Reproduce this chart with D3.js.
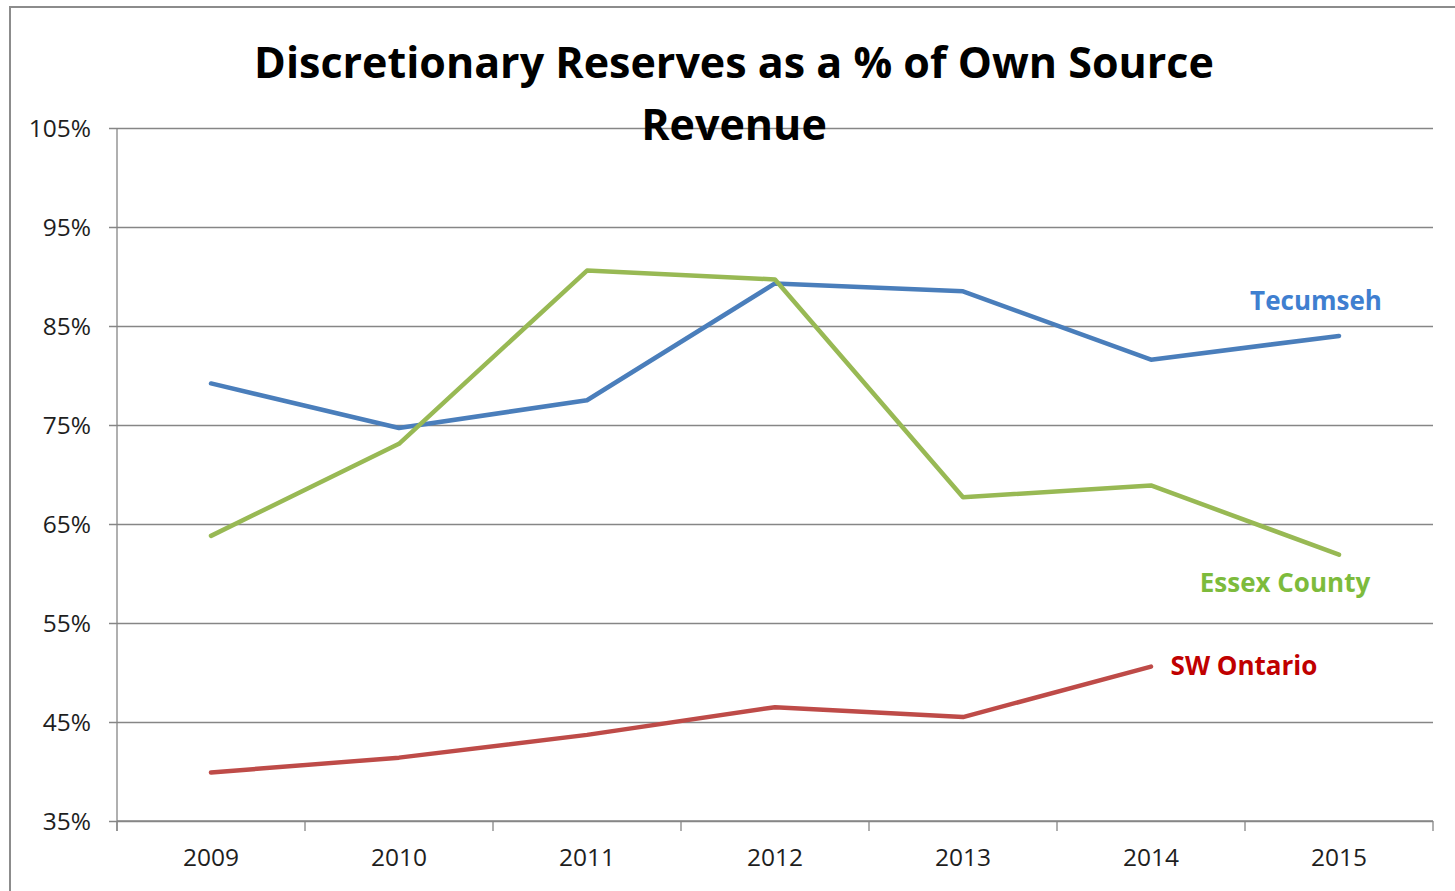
<!DOCTYPE html>
<html>
<head>
<meta charset="utf-8">
<script src="https://cdn.jsdelivr.net/npm/d3@7"></script>
<style>
  html, body { margin: 0; padding: 0; background: #fff; }
  svg { display: block; }
</style>
</head>
<body>
<svg id="chart" width="1455" height="891"></svg>
<script>
// Discretionary reserves as a share of own-source revenue, by year
const years = ["2009", "2010", "2011", "2012", "2013", "2014", "2015"];
const tecumseh = [79.2, 74.7, 77.5, 89.3, 88.5, 81.6, 84.0];
const essexCounty = [63.8, 73.1, 90.6, 89.7, 67.7, 68.9, 61.9];
const swOntario = [39.9, 41.4, 43.7, 46.5, 45.5, 50.6];
const yTicks = [35, 45, 55, 65, 75, 85, 95, 105];
const titleLines = ["Discretionary Reserves as a % of Own Source", "Revenue"];

const series = [
  { name: "Tecumseh", values: tecumseh, line: "#4A7EBB", label: "#3F7FD0", lx: 1316, ly: 301 },
  { name: "Essex County", values: essexCounty, line: "#98B954", label: "#7DBB3C", lx: 1285, ly: 583 },
  { name: "SW Ontario", values: swOntario, line: "#BE4B48", label: "#C00000", lx: 1244, ly: 666 }
];

const svg = d3.select("#chart");
const W = 1455, H = 891;
const plot = { left: 117, right: 1433, top: 128, bottom: 821 };
const gridColor = "#868686";
const font = "'Open Sans', 'Liberation Sans', sans-serif";

// outer frame
svg.append("rect")
  .attr("x", 10).attr("y", 7)
  .attr("width", W - 10 + 2).attr("height", H - 7 + 2)
  .attr("fill", "#fff")
  .attr("stroke", "#8c8c8c").attr("stroke-width", 2);

const x = d3.scalePoint().domain(years).range([plot.left, plot.right]).padding(0.5);
const xBand = d3.scaleBand().domain(years).range([plot.left, plot.right]);
const y = d3.scaleLinear().domain([35, 105]).range([plot.bottom, plot.top]);

// horizontal gridlines + y axis labels
const yAxis = svg.append("g")
  .attr("transform", `translate(${plot.left},0)`)
  .call(d3.axisLeft(y).tickValues(yTicks)
    .tickSize(-(plot.right - plot.left))
    .tickFormat(d => d + "%"));
yAxis.select(".domain").remove();
yAxis.selectAll(".tick line")
  .attr("stroke", gridColor).attr("stroke-width", 1.3)
  .attr("x2", plot.right - plot.left).attr("x1", -8);
yAxis.selectAll(".tick text")
  .attr("x", -26)
  .attr("dy", "0.35em")
  .attr("fill", "#1e1e1e")
  .style("font-family", font)
  .style("font-size", "24.5px");

// vertical axis line
svg.append("line")
  .attr("x1", plot.left).attr("x2", plot.left)
  .attr("y1", plot.top).attr("y2", plot.bottom + 10)
  .attr("stroke", gridColor).attr("stroke-width", 1.3);

// x axis with ticks at category boundaries
const xAxis = svg.append("g")
  .attr("transform", `translate(0,${plot.bottom})`);
xAxis.append("line")
  .attr("x1", plot.left).attr("x2", plot.right)
  .attr("stroke", gridColor).attr("stroke-width", 1.3);
const boundaries = years.map(d => xBand(d)).concat([xBand(years[years.length - 1]) + xBand.bandwidth()]);
xAxis.selectAll("line.tk").data(boundaries).enter().append("line")
  .attr("class", "tk")
  .attr("x1", d => d).attr("x2", d => d)
  .attr("y1", 0).attr("y2", 10)
  .attr("stroke", gridColor).attr("stroke-width", 1.3);
xAxis.selectAll("text").data(years).enter().append("text")
  .attr("x", d => x(d))
  .attr("y", 45)
  .attr("text-anchor", "middle")
  .attr("fill", "#1e1e1e")
  .style("font-family", font)
  .style("font-size", "24.5px")
  .text(d => d);

// series lines
const line = d3.line()
  .x((d, i) => x(years[i]))
  .y(d => y(d));

series.forEach(s => {
  svg.append("path")
    .datum(s.values)
    .attr("d", line)
    .attr("fill", "none")
    .attr("stroke", s.line)
    .attr("stroke-width", 4.5)
    .attr("stroke-linejoin", "round")
    .attr("stroke-linecap", "round");
});

// series labels
series.forEach(s => {
  svg.append("text")
    .attr("x", s.lx).attr("y", s.ly)
    .attr("text-anchor", "middle")
    .attr("dy", "0.35em")
    .attr("fill", s.label)
    .style("font-family", font)
    .style("font-weight", 700)
    .style("font-size", "26px")
    .text(s.name);
});

// title
const title = svg.append("g");
title.selectAll("text").data(titleLines).enter().append("text")
  .attr("x", 734)
  .attr("y", (d, i) => 78 + i * 62)
  .attr("text-anchor", "middle")
  .attr("fill", "#000")
  .style("font-family", font)
  .style("font-weight", 700)
  .style("font-size", "43px")
  .text(d => d);
</script>
</body>
</html>
